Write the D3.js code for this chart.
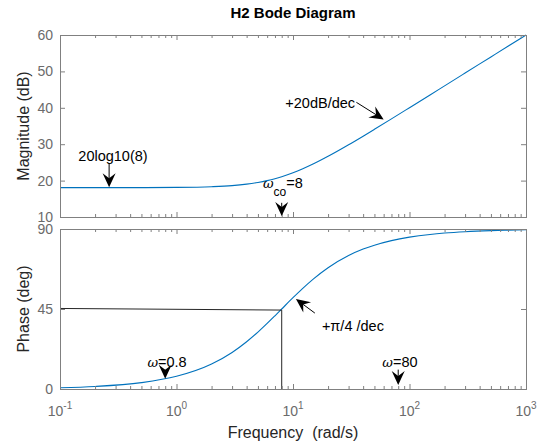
<!DOCTYPE html>
<html><head><meta charset="utf-8">
<script src="https://cdn.jsdelivr.net/npm/d3@7"></script>
<style>
body{margin:0;background:#fff}
text{font-family:"Liberation Sans",Arial,Helvetica,sans-serif}
</style>
</head><body>
<svg id="c" width="542" height="444"></svg>
<script>
// ---- data ----
const freq        = [0.1,0.2,0.5,1,2,3,4,5,6,7,8,10,12,15,20,30,40,50,70,100,150,200,300,500,700,1000];
const magnitudeDb = [18.06,18.06,18.08,18.13,18.33,18.63,19.03,19.49,20.0,20.53,21.07,22.15,23.18,24.61,26.67,29.84,32.21,34.09,36.96,40.03,43.53,46.03,49.55,53.98,56.9,60.0];
const phaseDeg    = [0.72,1.43,3.58,7.13,14.04,20.56,26.57,32.0,36.87,41.19,45.0,51.34,56.31,61.93,68.2,75.07,78.69,80.91,83.48,85.43,86.95,87.71,88.47,89.08,89.35,89.54];
const refLineFreq  = [0.1, 8, 8];
const refLinePhase = [45.3, 44.4, 0];
const xTickExps  = [-1,0,1,2,3];
const magTicks   = [10,20,30,40,50,60];
const phaseTicks = [0,45,90];
const titleText = "H2 Bode Diagram";

const svg = d3.select("#c");
const L = 60, R = 526;
const x  = d3.scaleLog().domain([0.1,1000]).range([L,R]);
const yM = d3.scaleLinear().domain([10,60]).range([217,35]);
const yP = d3.scaleLinear().domain([0,90]).range([389,229]);

const axisCol = "#808080", tickTxt = "#6b6b6b", blue = "#0072BD";

const majors = xTickExps.map(e => Math.pow(10,e));
const minors = [];
for (let e=-1;e<3;e++) for (let k=2;k<=9;k++) minors.push(k*Math.pow(10,e));

function frame(y){
  const [b,t] = y.range();
  const g = svg.append("g");
  [[d3.axisBottom, b],[d3.axisTop, t]].forEach(([ax,pos])=>{
    g.append("g").attr("transform",`translate(0,${pos})`)
      .call(ax(x).tickValues(minors).tickSize(-3).tickFormat(""));
    g.append("g").attr("transform",`translate(0,${pos})`)
      .call(ax(x).tickValues(majors).tickSize(-5).tickFormat(""));
  });
  const yt = y === yM ? magTicks : phaseTicks;
  const la = g.append("g").attr("transform",`translate(${L},0)`)
    .call(d3.axisLeft(y).tickValues(yt).tickSize(-5).tickPadding(7));
  la.selectAll("text").attr("font-size",14).attr("fill",tickTxt)
    .attr("font-family","Liberation Sans, Arial, sans-serif");
  g.append("g").attr("transform",`translate(${R},0)`)
    .call(d3.axisRight(y).tickValues(yt).tickSize(-5).tickFormat(""));
  g.selectAll("path.domain").attr("stroke",axisCol);
  g.selectAll(".tick line").attr("stroke",axisCol);
  return g;
}

// curves
const pts = freq.map((f,i)=>({f, m:magnitudeDb[i], p:phaseDeg[i]}));
svg.append("path").datum(pts).attr("fill","none").attr("stroke",blue).attr("stroke-width",1.1)
  .attr("d", d3.line().x(d=>x(d.f)).y(d=>yM(d.m)).curve(d3.curveMonotoneX));
svg.append("path").datum(pts).attr("fill","none").attr("stroke",blue).attr("stroke-width",1.1)
  .attr("d", d3.line().x(d=>x(d.f)).y(d=>yP(d.p)).curve(d3.curveMonotoneX));
svg.append("path").datum(refLineFreq.map((f,i)=>({f,p:refLinePhase[i]})))
  .attr("fill","none").attr("stroke","#262626").attr("stroke-width",1)
  .attr("d", d3.line().x(d=>x(d.f)).y(d=>yP(d.p)));

frame(yM);
frame(yP);

// x tick labels
xTickExps.forEach(e=>{
  const t = svg.append("text").attr("x", x(Math.pow(10,e))).attr("y",416)
    .attr("text-anchor","middle").attr("fill",tickTxt).attr("font-size",14);
  t.append("tspan").text("10");
  t.append("tspan").attr("dy",-7).attr("font-size",10).text(String(e));
});

// titles / labels
svg.append("text").attr("x",(L+R)/2).attr("y",18).attr("text-anchor","middle")
  .attr("font-size",15).attr("font-weight","bold").attr("fill","#000").text(titleText);
svg.append("text").attr("x",(L+R)/2).attr("y",438).attr("text-anchor","middle")
  .attr("font-size",16).attr("fill","#262626").attr("xml:space","preserve").text("Frequency  (rad/s)");
svg.append("text").attr("transform",`translate(29,${(35+217)/2}) rotate(-90)`).attr("text-anchor","middle")
  .attr("font-size",16).attr("fill","#262626").text("Magnitude (dB)");
svg.append("text").attr("transform",`translate(29,${(229+389)/2}) rotate(-90)`).attr("text-anchor","middle")
  .attr("font-size",16).attr("fill","#262626").text("Phase (deg)");

// annotations
function arrow(x1,y1,x2,y2){
  const dx=x2-x1, dy=y2-y1, len=Math.hypot(dx,dy), ux=dx/len, uy=dy/len;
  const hl=14, hw=6.5, notch=9;
  const bx=x2-ux*hl, by=y2-uy*hl, nx=x2-ux*notch, ny=y2-uy*notch;
  svg.append("line").attr("x1",x1).attr("y1",y1).attr("x2",nx).attr("y2",ny)
    .attr("stroke","#000").attr("stroke-width",1);
  svg.append("path").attr("fill","#000")
    .attr("d",`M${x2},${y2}L${bx-uy*hw},${by+ux*hw}L${nx},${ny}L${bx+uy*hw},${by-ux*hw}Z`);
}
const fs = 14.5;
function label(txt,px,py,anchor){
  return svg.append("text").attr("x",px).attr("y",py).attr("text-anchor",anchor||"start")
    .attr("font-size",fs).attr("fill","#000").text(txt);
}
// magnitude panel
label("20log10(8)", x(0.285), yM(25.4), "middle");
arrow(x(0.264), yM(24.6), x(0.264), yM(18.2));
const wc = svg.append("text").attr("x",x(5.52)).attr("y",yM(18.0)).attr("font-size",fs).attr("fill","#000");
wc.append("tspan").attr("font-family","DejaVu Serif, serif").attr("font-style","italic").attr("font-size",13).text("ω");
wc.append("tspan").attr("dy",8).attr("font-size",12).text("co");
wc.append("tspan").attr("dy",-8).text("=8");
arrow(x(8), yM(13.9), x(8), yM(10.3));
label("+20dB/dec", x(34.1), yM(39.9), "end");
arrow(x(35), yM(41.5), x(60), yM(36.8));
// phase panel
label("+π/4 /dec", x(17.7), yP(32.6));
arrow(x(15.4), yP(42.7), x(10.6), yP(50.6));
function wlabel(val, f){
  const t = svg.append("text").attr("x",x(f)).attr("y",yP(12.4)).attr("text-anchor","middle")
    .attr("font-size",fs).attr("fill","#000");
  t.append("tspan").attr("font-family","DejaVu Serif, serif").attr("font-style","italic").attr("font-size",13).text("ω");
  t.append("tspan").text("="+val);
}
wlabel("0.8", 0.83);
arrow(x(0.8), yP(10.9), x(0.8), yP(5.7));
wlabel("80", 82.8);
arrow(x(80), yP(10.9), x(80), yP(2.3));
</script>
</body></html>
